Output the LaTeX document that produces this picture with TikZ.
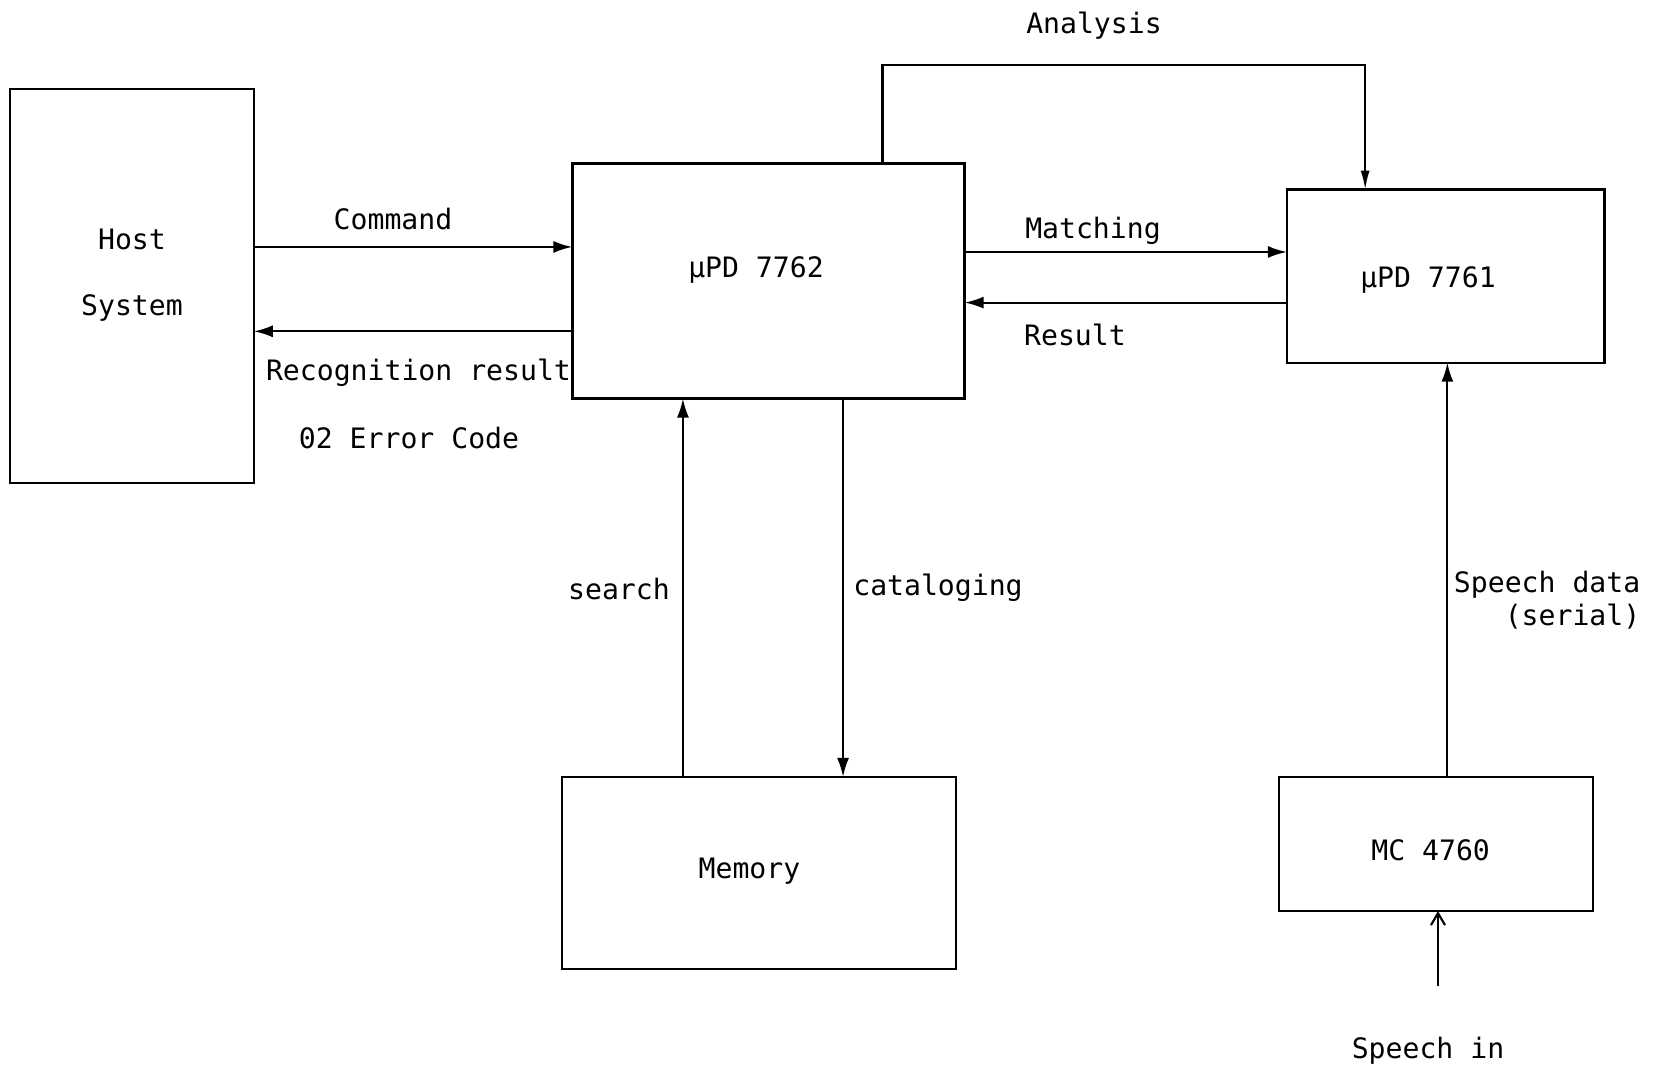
\documentclass[tikz,border=0pt]{standalone}
\usepackage{fontspec}
\setmonofont{DejaVu Sans Mono}
\usetikzlibrary{positioning, arrows.meta}

\begin{document}
\begin{tikzpicture}
      [x=0.01cm, y=-0.01cm, text centered,
       font=\ttfamily\fontsize{8}{9.3}\selectfont,
       blk/.style={draw, rectangle, line width=0.7pt, inner sep=0pt, outer sep=0pt},
       flow/.style={-{Latex[length=1.9mm,width=1.2mm]}, line width=0.6pt}]

      \useasboundingbox (0,0) rectangle (1653,1071);

      %nodes
      \node[blk, minimum width=2.435cm, minimum height=3.94cm] (host) at (132,286) {};
      \node[blk, minimum width=3.92cm, minimum height=2.35cm] (p7762) at (768.5,281) {};
      \node[blk, minimum width=3.175cm, minimum height=1.73cm] (p7761) at (1445.8,276.2) {};
      \node[blk, minimum width=3.94cm, minimum height=1.92cm] (mem) at (759,873) {};
      \node[blk, minimum width=3.14cm, minimum height=1.34cm] (mc) at (1436,844) {};
      \coordinate (antop) at (1124,65.4);
      \coordinate (spin) at (1438,985.7);

      % labels %
      \node (hostt) at (132,239) {Host};
      \node (hosts) at (132,308) {System};
      \node (t7762) at (756,270) {µPD 7762};
      \node (t7761) at (1428,280) {µPD 7761};
      \node (tmem) at (749.5,871) {Memory};
      \node (tmc) at (1430.6,850.7) {MC 4760};
      \node (cmd) at (393,219.3) {Command};
      \node (rec) at (418.5,373) {Recognition result};
      \node (err) at (409,438.5) {02 Error Code};
      \node (ana) at (1094,25.3) {Analysis};
      \node (mat) at (1093,231) {Matching};
      \node (res) at (1075,335) {Result};
      \node (sea) at (619,589) {search};
      \node (cat) at (938,588) {cataloging};
      \node[align=right, anchor=east, inner sep=0pt] (spd) at (1641,600) {Speech data\\(serial)};
      \node (spi) at (1428,1051) {Speech in};

      % edges %
      \draw[flow] ([yshift=0.39cm]host.east) -- ([yshift=0.39cm]host.east -| p7762.west);
      \draw[flow] ([yshift=-0.453cm]host.east -| p7762.west) -- ([yshift=-0.453cm]host.east);
      \draw[flow] ([yshift=0.29cm]p7762.east) -- ([yshift=0.29cm]p7762.east -| p7761.west);
      \draw[flow] ([yshift=-0.216cm]p7762.east -| p7761.west) -- ([yshift=-0.216cm]p7762.east);
      \draw[-{Latex[length=1.9mm,width=0.9mm]}, line width=0.6pt] ([xshift=1.139cm]p7762.north) |- (antop) -| ([xshift=-0.806cm]p7761.north);
      \draw[flow] ([xshift=-0.855cm]p7762.south |- mem.north) -- ([xshift=-0.855cm]p7762.south);
      \draw[flow] ([xshift=0.745cm]p7762.south) -- ([xshift=0.745cm]p7762.south |- mem.north);
      \draw[flow] ([xshift=0.114cm]mc.north) -- ([xshift=0.114cm]mc.north |- p7761.south);
      \draw[-{Straight Barb[length=1.2mm,width=1.4mm]}, line width=0.6pt] (spin) -- (spin |- mc.south);
\end{tikzpicture}
\end{document}
